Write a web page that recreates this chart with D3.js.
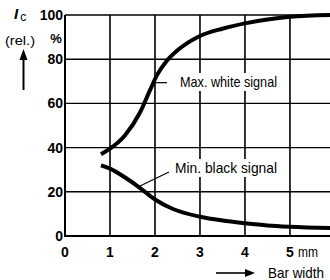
<!DOCTYPE html>
<html><head><meta charset="utf-8">
<script src="https://cdn.jsdelivr.net/npm/d3@7"></script>
<style>
html,body{margin:0;padding:0;background:#fff;}
svg{display:block;}
text{font-family:"Liberation Sans",Arial,sans-serif;fill:#000;}
</style></head>
<body>
<svg id="c" width="330" height="280"></svg>
<script>
const xTicks = [1, 2, 3, 4, 5];
const yTicks = [0, 20, 40, 60, 80, 100];
const gridY = [20, 40, 60, 80, 100];
const maxWhiteX = [0.8, 1.0, 1.33, 1.67, 1.89, 2.05, 2.25, 2.5, 3.0, 3.5, 4.0, 4.5, 5.0, 5.89];
const maxWhiteY = [37, 39.5, 45.5, 56, 66, 73, 79, 84, 90.5, 93.8, 96.2, 98, 99.2, 100];
const minBlackX = [0.8, 1.0, 1.37, 1.67, 2.0, 2.4, 3.0, 3.5, 4.0, 4.5, 5.0, 5.89];
const minBlackY = [32, 30.5, 26, 21.7, 16.5, 12.2, 8.7, 7.0, 5.8, 4.8, 4.2, 3.6];

const svg = d3.select("#c");
const x = d3.scaleLinear().domain([0, 5.89]).range([65, 330]);
const y = d3.scaleLinear().domain([0, 100]).range([236, 15]);

// grid
svg.append("g").selectAll("line").data(xTicks).join("line")
  .attr("x1", d => x(d)).attr("x2", d => x(d))
  .attr("y1", y(100)).attr("y2", y(0))
  .attr("stroke", "#000").attr("stroke-width", 1.6);
svg.append("g").selectAll("line").data(gridY).join("line")
  .attr("x1", x(0)).attr("x2", 330)
  .attr("y1", d => y(d)).attr("y2", d => y(d))
  .attr("stroke", "#000").attr("stroke-width", 1.4);
// axes
svg.append("line").attr("x1", x(0)).attr("x2", x(0)).attr("y1", y(100)).attr("y2", y(0)+1)
  .attr("stroke", "#000").attr("stroke-width", 2);
svg.append("line").attr("x1", x(0)).attr("x2", 330).attr("y1", y(0)).attr("y2", y(0))
  .attr("stroke", "#000").attr("stroke-width", 2);

// tick labels
svg.append("g").selectAll("text").data(yTicks).join("text")
  .attr("x", 63).attr("y", d => y(d)).attr("dy", "0.35em")
  .attr("text-anchor", "end").attr("font-size", 14).attr("font-weight", "bold")
  .text(d => d);
svg.append("g").selectAll("text").data([0].concat(xTicks)).join("text")
  .attr("x", d => x(d)).attr("y", 252).attr("dy", "0.35em")
  .attr("text-anchor", "middle").attr("font-size", 14).attr("font-weight", "bold")
  .text(d => d);
svg.append("text").attr("x", 298).attr("y", 252).attr("dy", "0.35em")
  .attr("font-size", 14).attr("textLength", 20).attr("lengthAdjust", "spacingAndGlyphs").text("mm");
svg.append("text").attr("x", 56).attr("y", 38).attr("dy", "0.35em")
  .attr("text-anchor", "middle").attr("font-size", 13).attr("font-weight", "bold").text("%");

// y title
const t = svg.append("text").attr("x", 14).attr("y", 19).attr("font-size", 15);
t.append("tspan").attr("font-style", "italic").attr("font-weight", "bold").text("I");
t.append("tspan").attr("font-size", 12).attr("dx", 2).attr("dy", 2).text("c");
svg.append("text").attr("x", 20).attr("y", 40).attr("dy", "0.35em")
  .attr("text-anchor", "middle").attr("font-size", 13).attr("textLength", 30)
  .attr("lengthAdjust", "spacingAndGlyphs").text("(rel.)");
svg.append("line").attr("x1", 23.5).attr("x2", 23.5).attr("y1", 90).attr("y2", 58)
  .attr("stroke", "#000").attr("stroke-width", 2);
svg.append("path").attr("d", "M23.5,49 L19.5,60 L27.5,60 Z").attr("fill", "#000");

// x title
svg.append("line").attr("x1", 216).attr("x2", 247).attr("y1", 273).attr("y2", 273)
  .attr("stroke", "#000").attr("stroke-width", 1.6);
svg.append("path").attr("d", "M255,273 L245,269 L245,277 Z").attr("fill", "#000");
svg.append("text").attr("x", 268).attr("y", 273).attr("dy", "0.35em")
  .attr("font-size", 15).attr("textLength", 56).attr("lengthAdjust", "spacingAndGlyphs").text("Bar width");

// curves
const line = d3.line().x(d => x(d[0])).y(d => y(d[1])).curve(d3.curveMonotoneX);
svg.append("path").datum(maxWhiteX.map((v, i) => [v, maxWhiteY[i]]))
  .attr("d", line).attr("fill", "none").attr("stroke", "#000").attr("stroke-width", 4);
svg.append("path").datum(minBlackX.map((v, i) => [v, minBlackY[i]]))
  .attr("d", line).attr("fill", "none").attr("stroke", "#000").attr("stroke-width", 4);

// labels & leaders
svg.append("line").attr("x1", 155).attr("x2", 167).attr("y1", 82.7).attr("y2", 82.7)
  .attr("stroke", "#000").attr("stroke-width", 1.2);
svg.append("rect").attr("x", 177).attr("y", 73).attr("width", 102).attr("height", 18).attr("fill", "#fff");
svg.append("text").attr("x", 180).attr("y", 82).attr("dy", "0.35em")
  .attr("font-size", 15).attr("textLength", 97).attr("lengthAdjust", "spacingAndGlyphs").text("Max. white signal");
svg.append("line").attr("x1", 140).attr("x2", 169).attr("y1", 186).attr("y2", 172)
  .attr("stroke", "#000").attr("stroke-width", 1.2);
svg.append("rect").attr("x", 172).attr("y", 159).attr("width", 108).attr("height", 18).attr("fill", "#fff");
svg.append("text").attr("x", 175).attr("y", 168).attr("dy", "0.35em")
  .attr("font-size", 15).attr("textLength", 102).attr("lengthAdjust", "spacingAndGlyphs").text("Min. black signal");
</script>
</body></html>
